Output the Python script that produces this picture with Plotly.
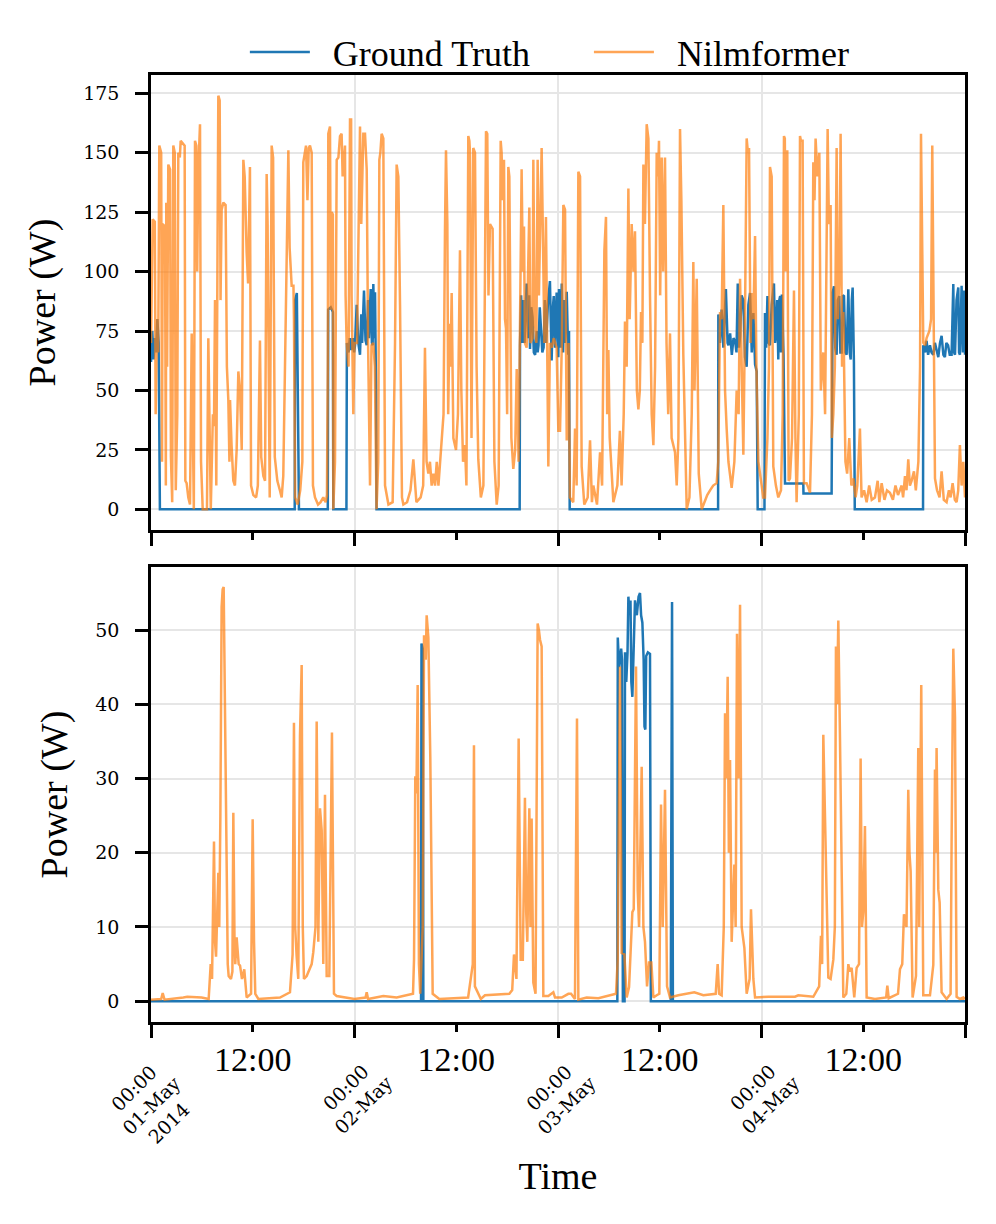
import pandas as pd
import plotly.graph_objects as go

# ---------------- data (hours since 2014-05-01 00:00, watts) ----------------
START = "2014-05-01 00:00"
DAY_TICKS = ["2014-05-01", "2014-05-02", "2014-05-03", "2014-05-04", "2014-05-05"]
NOON_TICKS = ["2014-05-01 12:00", "2014-05-02 12:00", "2014-05-03 12:00", "2014-05-04 12:00"]
DAY_LABELS = ["00:00<br>01-May<br>2014", "00:00<br>02-May", "00:00<br>03-May", "00:00<br>04-May"]
NOON_LABELS = ["12:00", "12:00", "12:00", "12:00"]
TOP_YTICKS = [0, 25, 50, 75, 100, 125, 150, 175]
BOT_YTICKS = [0, 10, 20, 30, 40, 50]
SERIES_NAMES = ["Ground Truth", "Nilmformer"]

TOP_TRUTH = [
    (0.0, 62), (0.15, 75), (0.3, 63), (0.45, 72), (0.6, 66), (0.75, 80), (0.9, 70), (1.05, 0),
    (16.95, 0), (17.0, 88), (17.2, 91), (17.35, 30), (17.45, 0),
    (20.85, 0), (20.9, 84), (21.2, 85), (21.45, 83), (21.5, 0),
    (23.05, 0), (23.1, 70), (23.3, 66), (23.45, 72), (23.6, 67), (23.8, 72), (23.95, 66),
    (24.06, 69), (24.26, 86), (24.45, 70), (24.65, 65), (24.8, 82), (24.9, 70), (25.12, 92),
    (25.3, 71), (25.44, 69), (25.6, 88), (25.7, 72), (25.91, 92.7), (26.05, 70), (26.14, 69),
    (26.22, 94.8), (26.35, 72), (26.42, 91.3), (26.54, 50.7), (26.6, 0),
    (43.48, 0), (43.52, 69), (43.65, 90), (43.8, 70), (43.95, 88), (44.05, 70), (44.3, 95),
    (44.5, 72), (44.6, 90), (44.7, 67.5), (44.85, 85), (45.0, 80.8), (45.15, 66), (45.3, 65),
    (45.5, 75), (45.6, 66), (45.7, 69), (45.85, 85), (46.0, 72), (46.15, 66), (46.3, 68),
    (46.45, 88), (46.6, 70), (46.8, 86), (47.05, 96), (47.25, 62.6), (47.4, 85), (47.5, 89.7),
    (47.65, 68), (47.84, 91.2), (48.04, 64), (48.12, 92.7), (48.3, 68), (48.44, 95), (48.6, 66),
    (48.7, 88), (48.8, 70), (49.03, 91.5), (49.2, 65), (49.3, 75), (49.38, 0),
    (66.88, 0), (66.91, 82), (67.1, 70), (67.3, 84), (67.5, 68), (67.8, 92.7), (68.0, 70),
    (68.1, 69), (68.3, 74), (68.5, 65), (68.7, 72), (68.9, 70.5), (69.05, 66), (69.2, 95),
    (69.35, 68), (69.47, 73), (69.65, 90), (69.86, 88), (70.05, 64), (70.25, 60), (70.45, 86),
    (70.65, 91), (70.85, 66), (71.04, 82.6), (71.24, 61), (71.43, 58), (71.55, 0),
    (72.35, 0), (72.41, 82.6), (72.55, 68), (72.7, 89.7), (72.85, 70), (73.0, 69), (73.2, 86),
    (73.47, 95), (73.6, 70), (73.7, 73), (73.85, 88), (73.98, 63), (74.1, 88), (74.2, 89.7),
    (74.3, 66), (74.4, 90.4), (74.6, 65), (74.77, 10.9), (76.93, 10.9), (76.95, 6.7), (80.27, 6.7),
    (80.39, 91.3), (80.55, 93.8), (80.7, 68), (80.86, 65), (81.0, 88), (81.17, 89.7), (81.3, 66),
    (81.45, 66), (81.6, 90), (81.73, 89.7), (81.9, 66), (82.04, 65), (82.15, 90), (82.24, 92.6),
    (82.4, 66), (82.52, 63), (82.65, 88), (82.75, 93.3), (82.9, 62), (83.0, 0),
    (91.05, 0), (91.08, 69), (91.3, 66), (91.47, 70.9), (91.65, 65), (91.87, 69), (92.05, 66),
    (92.26, 65), (92.45, 70), (92.65, 67.5), (92.85, 64), (93.05, 70), (93.24, 73), (93.45, 65),
    (93.63, 64), (93.8, 70), (94.0, 69), (94.2, 65), (94.42, 65), (94.62, 94.8), (94.72, 66),
    (94.82, 65), (95.0, 88), (95.21, 93.3), (95.3, 66), (95.4, 65), (95.6, 94), (95.75, 66),
    (95.85, 92), (96.0, 65),
]

TOP_PRED = [
    (0.0, 70), (0.2, 122), (0.45, 121), (0.55, 40), (0.7, 80), (0.85, 66), (0.98, 153), (1.2, 150),
    (1.3, 20), (1.38, 120), (1.65, 119), (1.75, 10), (1.8, 129), (1.9, 60), (2.04, 145), (2.25, 143),
    (2.35, 22), (2.5, 3), (2.63, 153), (2.8, 150), (2.92, 8), (3.1, 40), (3.22, 150), (3.4, 148),
    (3.5, 155), (3.7, 154), (3.97, 153), (4.05, 12), (4.2, 11), (4.4, 5), (4.6, 2), (4.8, 74),
    (4.92, 27), (5.05, 0), (5.19, 155), (5.35, 153), (5.45, 100), (5.58, 143), (5.78, 162), (5.9, 20),
    (6.1, 0), (6.6, 0), (6.76, 72), (6.9, 30), (7.05, 0), (7.3, 40), (7.43, 35), (7.55, 88),
    (7.7, 10), (7.94, 174), (8.1, 172), (8.2, 88), (8.33, 126), (8.53, 129), (8.8, 128), (8.95, 60),
    (9.12, 46), (9.25, 20), (9.32, 46), (9.5, 27), (9.71, 12), (9.9, 10), (10.1, 25), (10.3, 58),
    (10.5, 50), (10.7, 25), (10.89, 147), (11.05, 140), (11.15, 120), (11.28, 108), (11.45, 95),
    (11.67, 144), (11.8, 10), (12.07, 6), (12.4, 5), (12.6, 10), (12.85, 71), (13.0, 22), (13.25, 14),
    (13.45, 12), (13.64, 141), (13.75, 120), (13.84, 78), (14.0, 5), (14.23, 153), (14.4, 148),
    (14.6, 22), (14.9, 12), (15.2, 8), (15.41, 5), (15.6, 14), (15.8, 60), (15.92, 85), (16.2, 151),
    (16.35, 110), (16.59, 94), (16.8, 94), (16.86, 80), (17.0, 5), (17.3, 2), (17.6, 8), (17.85, 20),
    (17.96, 146), (18.1, 150), (18.28, 153), (18.45, 130), (18.6, 152), (18.75, 153), (18.95, 150),
    (19.1, 10), (19.34, 5), (19.7, 2), (20.0, 3), (20.32, 5), (20.6, 3), (20.75, 6), (20.85, 60),
    (20.91, 158), (21.0, 160), (21.11, 161), (21.2, 84), (21.3, 125), (21.45, 124), (21.5, 0),
    (21.7, 20), (21.9, 147), (22.1, 148), (22.29, 157), (22.48, 158), (22.6, 140), (22.88, 153),
    (22.95, 90), (23.07, 70), (23.3, 60), (23.47, 164), (23.6, 164), (23.66, 90), (23.86, 40),
    (24.0, 70), (24.3, 70), (24.65, 161), (24.8, 120), (25.04, 158), (25.24, 158), (25.44, 143),
    (25.6, 70), (25.83, 10), (26.0, 69), (26.22, 70), (26.4, 60), (26.6, 0), (26.8, 20), (26.93, 147),
    (27.05, 150), (27.2, 158), (27.4, 156), (27.6, 10), (28.0, 2), (28.5, 3), (28.78, 70),
    (28.97, 145), (29.17, 140), (29.37, 86), (29.6, 5), (29.76, 2), (30.2, 3), (30.6, 8), (30.94, 21),
    (31.3, 3), (31.8, 5), (32.1, 10), (32.31, 68), (32.5, 20), (32.71, 15), (32.9, 20), (33.1, 10),
    (33.3, 15), (33.5, 10), (33.7, 20), (33.9, 10), (34.2, 25), (34.5, 40), (34.67, 117),
    (34.79, 151), (34.95, 120), (35.05, 40), (35.2, 78), (35.32, 60), (35.46, 91), (35.66, 30),
    (35.97, 25), (36.2, 40), (36.44, 109), (36.6, 50), (36.8, 20), (37.03, 27), (37.2, 10),
    (37.42, 157), (37.55, 155), (37.62, 150), (37.8, 30), (38.01, 152), (38.21, 150), (38.4, 60),
    (38.6, 21), (38.9, 5), (39.2, 10), (39.51, 159), (39.66, 158), (39.8, 90), (39.98, 120),
    (40.29, 118), (40.5, 20), (40.77, 2), (41.0, 10), (41.24, 155), (41.35, 150), (41.47, 130),
    (41.63, 147), (41.75, 80), (41.87, 76), (42.0, 40), (42.14, 144), (42.26, 140), (42.5, 30),
    (42.73, 17), (42.95, 25), (43.13, 59), (43.35, 20), (43.52, 69), (43.71, 143), (43.85, 100),
    (43.99, 119), (44.1, 70), (44.3, 68), (44.62, 127), (44.75, 70), (45.0, 72), (45.09, 147),
    (45.25, 80), (45.45, 70), (45.6, 147), (45.75, 90), (46.07, 152), (46.2, 120), (46.4, 70),
    (46.58, 123), (46.86, 18), (47.05, 70), (47.25, 68), (47.5, 72), (47.65, 70), (47.84, 68),
    (48.04, 33), (48.24, 33), (48.45, 70), (48.63, 128), (48.83, 126), (49.03, 29), (49.25, 70),
    (49.4, 5), (49.8, 3), (50.01, 34), (50.2, 10), (50.4, 142), (50.6, 140), (50.79, 18), (51.1, 2),
    (51.5, 5), (51.78, 29), (52.0, 3), (52.17, 10), (52.6, 2), (52.96, 24), (53.2, 10), (53.47, 109),
    (53.66, 123), (53.8, 40), (53.94, 67), (54.1, 30), (54.53, 3), (55.0, 10), (55.3, 33), (55.5, 10),
    (55.75, 40), (55.9, 79), (56.1, 60), (56.3, 135), (56.45, 80), (56.69, 120), (56.9, 100),
    (57.08, 117), (57.3, 50), (57.48, 42), (57.65, 50), (57.79, 83), (57.95, 70), (58.07, 145),
    (58.25, 120), (58.46, 162), (58.66, 156), (58.85, 90), (59.05, 40), (59.25, 27), (59.45, 60),
    (59.64, 150), (59.8, 140), (59.91, 155), (60.05, 90), (60.23, 148), (60.4, 100), (60.62, 148),
    (60.8, 70), (61.0, 40), (61.21, 74), (61.4, 30), (61.8, 24), (62.0, 10), (62.2, 30), (62.39, 160),
    (62.55, 130), (62.78, 65), (63.0, 20), (63.18, 0), (63.5, 5), (63.77, 40), (63.96, 104),
    (64.1, 50), (64.36, 97), (64.6, 15), (64.95, 0), (65.3, 3), (65.6, 6), (65.93, 8), (66.3, 10),
    (66.71, 11), (66.9, 20), (67.11, 83), (67.3, 80), (67.5, 128), (67.7, 50), (67.89, 34), (68.1, 20),
    (68.48, 9), (68.8, 20), (69.07, 50), (69.3, 40), (69.47, 97), (69.65, 60), (69.86, 23), (70.05, 80),
    (70.25, 156), (70.4, 150), (70.53, 152), (70.7, 70), (70.84, 91), (71.04, 80), (71.24, 115),
    (71.4, 60), (71.63, 20), (72.02, 10), (72.2, 5), (72.41, 5), (72.7, 30), (72.88, 60), (73.0, 144),
    (73.2, 140), (73.39, 18), (73.7, 10), (73.98, 5), (74.3, 8), (74.5, 40), (74.65, 157), (74.75, 156),
    (74.85, 100), (75.04, 151), (75.2, 12), (75.36, 13), (75.6, 30), (75.83, 92), (76.0, 30),
    (76.14, 3), (76.4, 40), (76.54, 157), (76.65, 155), (76.85, 155), (77.0, 11), (77.32, 11),
    (77.72, 7), (77.95, 40), (78.11, 146), (78.25, 130), (78.38, 156), (78.6, 140), (78.82, 150),
    (79.0, 50), (79.29, 66), (79.5, 40), (79.8, 160), (79.95, 120), (80.15, 128), (80.3, 30),
    (80.47, 40), (80.65, 60), (80.86, 152), (81.0, 80), (81.2, 100), (81.33, 158), (81.5, 60),
    (81.65, 83), (81.9, 20), (82.1, 15), (82.35, 30), (82.6, 10), (82.83, 13), (83.1, 5), (83.3, 10),
    (83.61, 34), (83.8, 5), (84.1, 8), (84.4, 3), (84.7, 10), (85.0, 4), (85.38, 5), (85.7, 12),
    (85.9, 3), (86.17, 11), (86.5, 4), (86.8, 8), (87.15, 7), (87.5, 4), (87.8, 10), (88.1, 6),
    (88.53, 10), (88.7, 5), (88.92, 14), (89.1, 8), (89.31, 21), (89.5, 10), (89.7, 12), (89.98, 16),
    (90.2, 8), (90.5, 20), (90.7, 60), (90.81, 158), (90.95, 100), (91.08, 70), (91.3, 69),
    (91.47, 72), (91.8, 75), (92.0, 80), (92.14, 153), (92.25, 100), (92.46, 13), (92.7, 8), (93.0, 5),
    (93.24, 16), (93.5, 4), (93.83, 3), (94.1, 8), (94.3, 5), (94.54, 11), (94.8, 4), (95.01, 3),
    (95.2, 8), (95.4, 27), (95.6, 10), (95.8, 20), (96.0, 5),
]

BOT_TRUTH = [
    (0.0, 0), (31.85, 0), (31.9, 48.2), (32.05, 47.5), (32.12, 0),
    (55.0, 0), (55.05, 49), (55.2, 45), (55.31, 46), (55.45, 47.5), (55.55, 46), (55.65, 0),
    (55.85, 0), (55.9, 47), (56.05, 43), (56.2, 47), (56.3, 54.5), (56.45, 52), (56.55, 54),
    (56.65, 43), (56.77, 41), (56.9, 47), (57.08, 54), (57.3, 52), (57.5, 54.5), (57.67, 55),
    (57.8, 52), (57.95, 51), (58.1, 46), (58.2, 37), (58.3, 36.6), (58.4, 46.5), (58.6, 47),
    (58.85, 46.8), (58.95, 0), (61.3, 0), (61.35, 44), (61.45, 53.8), (61.55, 0), (96.0, 0),
]

BOT_PRED = [
    (0.0, 0.2), (1.2, 0.3), (1.38, 1.1), (1.6, 0.2), (3.81, 0.5), (4.28, 0.6), (5.97, 0.5), (6.8, 0.3),
    (7.04, 5), (7.2, 3), (7.43, 21.5), (7.55, 8), (7.67, 6), (7.94, 17.3), (8.05, 10), (8.18, 24.9),
    (8.33, 53.1), (8.45, 55.5), (8.57, 55.8), (8.77, 30), (8.92, 13.3), (9.05, 5), (9.16, 3.4),
    (9.43, 3), (9.6, 4), (9.71, 25.4), (9.85, 8), (9.94, 5), (10.1, 8.6), (10.34, 5), (10.5, 4.8),
    (10.73, 3), (11.0, 4.3), (11.28, 0.5), (11.8, 1), (11.99, 24.5), (12.15, 8), (12.3, 1),
    (12.66, 0.3), (15.21, 0.5), (16.39, 1.2), (16.7, 6.3), (16.86, 37.5), (17.0, 10), (17.18, 6),
    (17.37, 3), (17.57, 35.7), (17.77, 45.3), (17.9, 10), (18.04, 3), (18.36, 3.4), (18.95, 5),
    (19.14, 6.6), (19.4, 10), (19.54, 37.7), (19.65, 15), (19.73, 8), (19.93, 26), (20.13, 23),
    (20.32, 5), (20.52, 27.8), (20.72, 3.4), (21.03, 3.4), (21.34, 36.2), (21.58, 1), (21.89, 0.7),
    (23.07, 0.5), (24.0, 0.3), (25.3, 0.5), (25.44, 1.2), (25.6, 0.3), (27.4, 0.7), (28.97, 0.5),
    (30.9, 1), (31.02, 5.6), (31.17, 30.3), (31.3, 28), (31.45, 42.6), (31.6, 5), (31.75, 1),
    (32.05, 10), (32.2, 49.3), (32.4, 46), (32.51, 52), (32.71, 49), (32.94, 32.9), (33.22, 1),
    (34.0, 0.3), (37.4, 0.5), (37.95, 5), (38.09, 34.5), (38.2, 2), (38.9, 0.3), (39.39, 0.8),
    (42.26, 1.0), (42.6, 1.5), (42.81, 6.3), (43.1, 3), (43.36, 35.4), (43.5, 10), (43.6, 5.6),
    (43.85, 5.6), (44.1, 27.4), (44.25, 12), (44.38, 8), (44.62, 26), (44.75, 10), (44.89, 24.6),
    (45.09, 2.5), (45.35, 1), (45.6, 50.9), (45.75, 50), (45.88, 48.7), (46.07, 47.8), (46.27, 0.7),
    (46.86, 0.7), (47.45, 1.2), (47.65, 0.5), (48.44, 0.5), (49.22, 1), (49.54, 1), (50.0, 0.3),
    (50.24, 38.1), (50.4, 0.2), (51.38, 0.5), (52.76, 0.4), (54.84, 1), (55.04, 5.5), (55.31, 45.1),
    (55.51, 6.5), (55.83, 6.3), (56.1, 0.5), (56.38, 1.9), (56.77, 12), (56.93, 12.4), (57.2, 45.1),
    (57.4, 15), (57.56, 10), (57.87, 31.6), (58.07, 10), (58.26, 8), (58.5, 2), (58.73, 5.2),
    (59.01, 5.2), (59.25, 0.5), (59.64, 0.8), (59.95, 1), (60.15, 26.5), (60.35, 10), (60.62, 28.5),
    (60.86, 2), (61.21, 0.5), (62.19, 0.8), (64.08, 1.2), (65.14, 0.8), (66.6, 1), (66.83, 5),
    (67.0, 1), (67.3, 0.8), (67.55, 10), (67.7, 38.8), (67.85, 30), (68.01, 43.7), (68.15, 20),
    (68.29, 32.5), (68.48, 8), (68.8, 18.4), (68.95, 10), (69.11, 49.5), (69.3, 30), (69.47, 53.4),
    (69.66, 10), (69.98, 7.2), (70.25, 1), (70.6, 3), (70.76, 12.4), (71.04, 3), (71.24, 0.5),
    (72.8, 0.6), (75.95, 0.6), (76.34, 0.8), (78.11, 0.6), (78.8, 2), (79.01, 8.8), (79.15, 5),
    (79.29, 35.9), (79.41, 30), (79.6, 16.6), (79.88, 3.2), (80.15, 3), (80.47, 5.6), (80.65, 10),
    (80.78, 47.8), (80.9, 40), (81.06, 51.3), (81.25, 36), (81.45, 15.7), (81.65, 0.5), (82.0, 1),
    (82.24, 5), (82.4, 4), (82.63, 4.5), (82.94, 0.5), (83.22, 4.5), (83.5, 5), (83.69, 32.7),
    (83.85, 10), (84.0, 12), (84.2, 23.6), (84.4, 0.5), (85.38, 0.3), (86.7, 0.5), (86.84, 2.1),
    (87.0, 0.4), (88.1, 1), (88.33, 4.3), (88.6, 5), (88.8, 11.7), (89.1, 10), (89.31, 28.5),
    (89.45, 20), (89.59, 17.5), (89.82, 0.5), (90.22, 3.4), (90.49, 34.1), (90.6, 10), (90.84, 42.6),
    (91.08, 0.8), (91.87, 0.8), (92.26, 4.9), (92.46, 31.2), (92.55, 20), (92.65, 34.1), (92.85, 15),
    (93.01, 13.3), (93.24, 1.2), (93.83, 0.3), (94.3, 1), (94.42, 21.5), (94.62, 47.5), (94.82, 38.3),
    (95.01, 0.6), (95.4, 0.3), (95.8, 0.5), (96.0, 0.3),
]

# ---------------- helpers ----------------
t0 = pd.Timestamp(START)


def unpack(pairs):
    hours = [p[0] for p in pairs]
    watts = [p[1] for p in pairs]
    return t0 + pd.to_timedelta(hours, unit="h"), watts


BLUE = "#1f77b4"
ORANGE = "#ff7f0e"
GRID = "#e6e6e6"
SERIF_BIG = "Liberation Serif"
SERIF_SMALL = "DejaVu Serif"
X_RANGE = [DAY_TICKS[0], DAY_TICKS[-1]]
NB = "\u00a0"
LEG_NAMES = [NB * 2 + SERIES_NAMES[0] + NB * 6, NB * 2 + SERIES_NAMES[1]]

fig = go.Figure()
for pairs, color, name, xa, ya, show, op in [
    (TOP_TRUTH, BLUE, LEG_NAMES[0], "x", "y", True, 1.0),
    (TOP_PRED, ORANGE, LEG_NAMES[1], "x", "y", True, 0.7),
    (BOT_TRUTH, BLUE, LEG_NAMES[0], "x2", "y2", False, 1.0),
    (BOT_PRED, ORANGE, LEG_NAMES[1], "x3", "y2", False, 0.7),
]:
    tx, ty = unpack(pairs)
    fig.add_trace(go.Scatter(
        x=tx, y=ty, mode="lines", name=name, legendgroup=name, showlegend=show,
        line=dict(color=color, width=2.5), opacity=op, xaxis=xa, yaxis=ya,
    ))

axis_common = dict(
    showline=True, linecolor="black", linewidth=2.5, mirror=True,
    showgrid=True, gridcolor=GRID, gridwidth=2, zeroline=False,
    ticks="outside", ticklen=13, tickwidth=2.5, tickcolor="black",
)
xminor = dict(tickmode="array", tickvals=NOON_TICKS, ticks="outside", ticklen=7,
              tickwidth=2.5, tickcolor="black", showgrid=False)

H = 1224
M_T, M_B = 75, 202
plot_h = H - M_T - M_B
panel = 455
split_lo = panel / plot_h
split_hi = 1 - panel / plot_h

ytitle = dict(font=dict(family=SERIF_BIG, size=38), standoff=16)

fig.update_layout(
    width=996, height=H, autosize=False,
    margin=dict(l=151, r=31, t=M_T, b=M_B, pad=0),
    paper_bgcolor="white", plot_bgcolor="white",
    font=dict(family=SERIF_BIG, color="black"),
    showlegend=True,
    legend=dict(orientation="h", x=0.49, xanchor="center", y=1.0 + 23 / plot_h, yanchor="middle",
                font=dict(family=SERIF_BIG, size=36), bgcolor="rgba(0,0,0,0)",
                itemwidth=60, tracegroupgap=0),
    xaxis=dict(domain=[0, 1], anchor="y", type="date", range=X_RANGE,
               tickmode="array", tickvals=DAY_TICKS, showticklabels=False,
               minor=xminor, **axis_common),
    yaxis=dict(domain=[split_hi, 1], anchor="x", range=[-8.7, 182.7],
               tickmode="array", tickvals=TOP_YTICKS, ticklabelstandoff=12,
               tickfont=dict(family=SERIF_SMALL, size=19),
               title=dict(text="Power (W)", **ytitle),
               **axis_common),
    xaxis2=dict(domain=[0, 1], anchor="y2", type="date", range=X_RANGE,
                tickmode="array", tickvals=DAY_TICKS, showticklabels=False,
                minor=xminor, **axis_common),
    xaxis3=dict(overlaying="x2", anchor="y2", side="bottom", type="date", range=X_RANGE,
                tickmode="array", tickvals=NOON_TICKS, ticktext=NOON_LABELS,
                ticks="outside", ticklen=7, tickwidth=2.5, tickcolor="black",
                showgrid=False, showline=False, zeroline=False, ticklabelstandoff=0,
                tickfont=dict(family=SERIF_BIG, size=34),
                title=dict(text="Time", font=dict(family=SERIF_BIG, size=38), standoff=85)),
    yaxis2=dict(domain=[0, split_lo], anchor="x2", range=[-2.8, 58.5],
                tickmode="array", tickvals=BOT_YTICKS, ticklabelstandoff=12,
                tickfont=dict(family=SERIF_SMALL, size=19),
                title=dict(text="Power (W)", **ytitle),
                **axis_common),
)

for day, label in zip(DAY_TICKS[:-1], DAY_LABELS):
    fig.add_annotation(
        x=day, xref="x2", y=-30 / plot_h, yref="paper", text=label, showarrow=False,
        xanchor="center", yanchor="top", textangle=-45, align="center",
        font=dict(family=SERIF_SMALL, size=19, color="black"),
    )

fig.write_html("out.html")
